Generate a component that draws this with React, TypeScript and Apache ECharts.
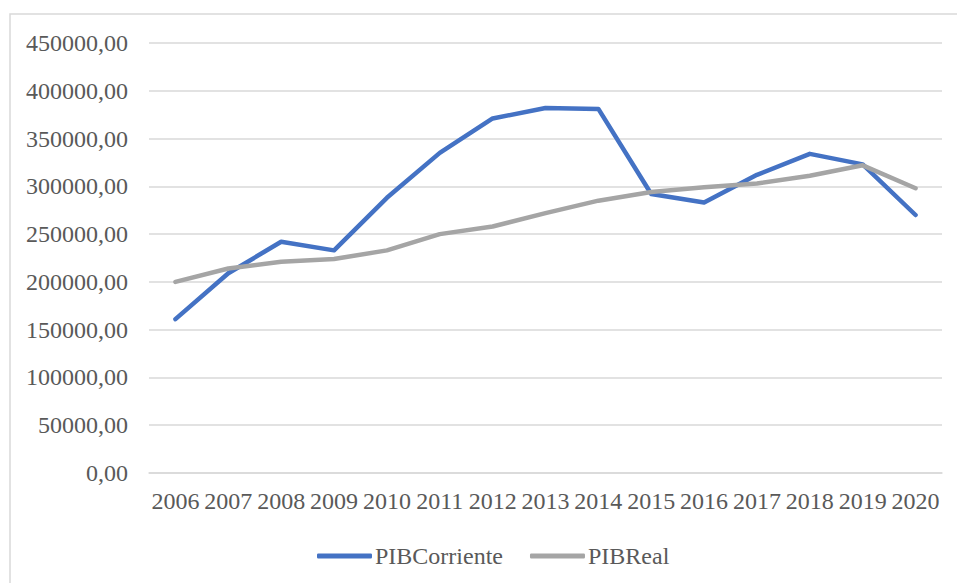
import React, { useEffect, useRef } from "react";
import * as echarts from "echarts";

const years = ["2006","2007","2008","2009","2010","2011","2012","2013","2014","2015","2016","2017","2018","2019","2020"];
const pibCorriente = [161000, 209000, 242000, 233000, 288000, 335000, 371000, 382000, 381000, 292000, 283000, 312000, 334000, 323000, 270000];
const pibReal = [200000, 214000, 221000, 224000, 233000, 250000, 258000, 272000, 285000, 294000, 299000, 303000, 311000, 322000, 298000];
const yMin = 0;
const yMax = 450000;
const yStep = 50000;

export default function App() {
  const ref = useRef<HTMLDivElement>(null);
  useEffect(() => {
    if (!ref.current) return;
    const chart = echarts.init(ref.current, null, { renderer: "svg" });
    const font = "Liberation Serif";
    chart.setOption({
      animation: false,
      backgroundColor: "#ffffff",
      textStyle: { fontFamily: font },
      graphic: [
        {
          type: "rect",
          shape: { x: 10, y: 14, width: 980, height: 600 },
          style: { fill: "none", stroke: "#d9d9d9", lineWidth: 1.5 },
          silent: true,
        },
      ],
      grid: { left: 149, right: 15, top: 43, bottom: 110 },
      legend: {
        data: [
          { name: "PIBCorriente", itemStyle: { color: "#4472C4" } },
          { name: "PIBReal", itemStyle: { color: "#A5A5A5" } },
        ],
        icon: "roundRect",
        left: 312,
        top: 539,
        itemWidth: 55,
        itemHeight: 5,
        itemGap: 27,
        textStyle: { fontFamily: font, fontSize: 24, color: "#595959", padding: [0, 0, 0, -2] },
      },
      xAxis: {
        type: "category",
        data: years,
        boundaryGap: true,
        axisLine: { show: true, lineStyle: { color: "#d9d9d9", width: 1.5 } },
        axisTick: { show: false },
        axisLabel: { interval: 0, fontFamily: font, fontSize: 24, color: "#595959", margin: 16 },
      },
      yAxis: {
        type: "value",
        min: yMin,
        max: yMax,
        interval: yStep,
        axisLine: { show: false },
        axisTick: { show: false },
        splitLine: { lineStyle: { color: "#d9d9d9", width: 1.5 } },
        axisLabel: {
          fontFamily: font,
          fontSize: 24,
          color: "#595959",
          margin: 21,
          formatter: (v: number) => v.toFixed(2).replace(".", ","),
        },
      },
      series: [
        {
          name: "PIBCorriente",
          type: "line",
          data: pibCorriente,
          showSymbol: false,
          symbol: "none",
          lineStyle: { color: "#4472C4", width: 4.5, cap: "round", join: "round" },
          itemStyle: { color: "#4472C4" },
        },
        {
          name: "PIBReal",
          type: "line",
          data: pibReal,
          showSymbol: false,
          symbol: "none",
          lineStyle: { color: "#A5A5A5", width: 4.5, cap: "round", join: "round" },
          itemStyle: { color: "#A5A5A5" },
        },
      ],
    });
    return () => chart.dispose();
  }, []);
  return (
    <div
      ref={ref}
      style={{ position: "fixed", left: 0, top: 0, width: 957, height: 583 }}
    />
  );
}
